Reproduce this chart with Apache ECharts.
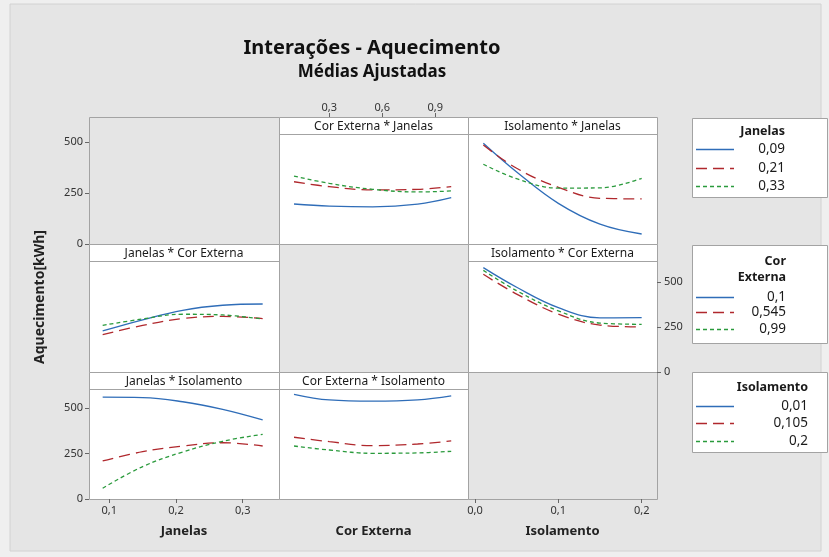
<!DOCTYPE html>
<html>
<head>
<meta charset="utf-8">
<script src="https://cdn.jsdelivr.net/npm/echarts@6/dist/echarts.min.js"></script>
<style>
  html, body { margin: 0; padding: 0; background: #efefef; }
  #chart { width: 829px; height: 557px; }
</style>
</head>
<body>
<div id="chart"></div>
<script>
// ---- Factor levels (legend labels) ----
const janelasLevels = ['0,09', '0,21', '0,33'];
const corLevels = ['0,1', '0,545', '0,99'];
const isoLevels = ['0,01', '0,105', '0,2'];

// ---- Axis ticks ----
const yTicks = [0, 250, 500];
const janelasTicks = [0.1, 0.2, 0.3];
const corTicks = [0.3, 0.6, 0.9];
const isoTicks = [0.0, 0.1, 0.2];

// ---- Fitted means, sampled along each factor ----
const corX = [0.1, 0.3, 0.545, 0.8, 0.99];
const isoX = [0.01, 0.05, 0.1, 0.15, 0.2];
const janX = [0.09, 0.15, 0.21, 0.27, 0.33];

// Cor Externa * Janelas (lines = Janelas)
const corJan_09 = [196, 186, 182, 195, 227];
const corJan_21 = [305, 281, 265, 268, 281];
const corJan_33 = [333, 297, 268, 255, 260];

// Isolamento * Janelas (lines = Janelas)
const isoJan_09 = [494, 353, 199, 97, 49];
const isoJan_21 = [485, 371, 278, 224, 221];
const isoJan_33 = [391, 320, 274, 275, 322];

// Janelas * Cor Externa (lines = Cor Externa)
const janCor_01 = [228, 290, 343, 371, 378];
const janCor_545 = [208, 259, 297, 309, 297];
const janCor_99 = [259, 295, 321, 317, 294];

// Isolamento * Cor Externa (lines = Cor Externa)
const isoCor_01 = [580, 471, 358, 301, 302];
const isoCor_545 = [543, 433, 322, 261, 250];
const isoCor_99 = [565, 452, 340, 272, 265];

// Janelas * Isolamento (lines = Isolamento)
const janIso_01 = [559, 557, 534, 492, 434];
const janIso_105 = [209, 260, 291, 309, 291];
const janIso_2 = [59, 178, 258, 317, 355];

// Cor Externa * Isolamento (lines = Isolamento)
const corIso_01 = [575, 544, 537, 544, 566];
const corIso_105 = [339, 315, 293, 302, 319];
const corIso_2 = [291, 269, 251, 253, 262];

// ---- Layout ----
const colX = [89, 279, 468, 657];
const rowY = [117, 244, 372, 499];
const STRIP = 17;
const rowMax = [539, 617, 604];        // y extent of each row's plotting area
const xRange = {
  jan: [0.0695, 0.3545],
  cor: [0.015, 1.085],
  iso: [-0.0084, 0.2184]
};

const BLUE = '#2f6db8', RED = '#b0282d', GREEN = '#2a9a3c';
const styles = [
  { color: BLUE, type: 'solid' },
  { color: RED, type: [11, 6] },
  { color: GREEN, type: [4, 3] }
];
const FONT = 'Noto Sans';
const comma = v => (Math.round(v * 10) / 10).toFixed(1).replace('.', ',');

// panels: [row, col, title, xKey, xs, [series...], legendLabels]
const panels = [
  [0, 0, null, 'jan'],
  [0, 1, 'Cor Externa * Janelas', 'cor', corX, [corJan_09, corJan_21, corJan_33], janelasLevels],
  [0, 2, 'Isolamento * Janelas', 'iso', isoX, [isoJan_09, isoJan_21, isoJan_33], janelasLevels],
  [1, 0, 'Janelas * Cor Externa', 'jan', janX, [janCor_01, janCor_545, janCor_99], corLevels],
  [1, 1, null, 'cor'],
  [1, 2, 'Isolamento * Cor Externa', 'iso', isoX, [isoCor_01, isoCor_545, isoCor_99], corLevels],
  [2, 0, 'Janelas * Isolamento', 'jan', janX, [janIso_01, janIso_105, janIso_2], isoLevels],
  [2, 1, 'Cor Externa * Isolamento', 'cor', corX, [corIso_01, corIso_105, corIso_2], isoLevels],
  [2, 2, null, 'iso']
];

const grids = [], xAxes = [], yAxes = [], series = [], graphics = [];

// outer frame
graphics.push({
  type: 'rect', shape: { x: 10, y: 4, width: 811, height: 547 },
  style: { fill: '#e5e5e5', stroke: '#d2d2d2', lineWidth: 1 }, z: -10
});

const tickLabelStyle = { color: '#333', fontSize: 11, fontFamily: FONT };
const tickStyle = { show: true, length: 4, lineStyle: { color: '#666' } };
const nameStyle = { color: '#222', fontSize: 13, fontWeight: 'bold', fontFamily: FONT };
const hiddenAxis = { splitLine: { show: false }, axisLine: { show: false }, axisTick: { show: false }, axisLabel: { show: false } };

panels.forEach((p, i) => {
  const [r, c, title, xKey, xs, lines, labels] = p;
  const left = colX[c], top = rowY[r];
  const w = colX[c + 1] - left, h = rowY[r + 1] - top;
  grids.push({ left: left, top: top + STRIP, width: w, height: h - STRIP, containLabel: false });

  // panel box
  graphics.push({
    type: 'rect', shape: { x: left + 0.5, y: top + 0.5, width: w, height: h },
    style: { fill: title ? '#ffffff' : '#e5e5e5', stroke: '#a3a3a3', lineWidth: 1 }, z: 0
  });
  if (title) {
    graphics.push({
      type: 'line', shape: { x1: left, y1: top + STRIP + 0.5, x2: left + w, y2: top + STRIP + 0.5 },
      style: { stroke: '#a3a3a3', lineWidth: 1 }, z: 1
    });
    graphics.push({
      type: 'text', x: left + w / 2, y: top + STRIP / 2 + 1, z: 1,
      style: { text: title, fill: '#1a1a1a', font: '12px "' + FONT + '"', textAlign: 'center', textVerticalAlign: 'middle' }
    });
  }

  // x axis
  const xa = Object.assign({ gridIndex: i, type: 'value', min: xRange[xKey][0], max: xRange[xKey][1] }, hiddenAxis);
  if (r === 2) {
    const ticks = c === 0 ? janelasTicks : (c === 2 ? isoTicks : null);
    Object.assign(xa, { position: 'bottom', name: ['Janelas', 'Cor Externa', 'Isolamento'][c],
      nameLocation: 'middle', nameGap: 26, nameTextStyle: nameStyle });
    if (ticks) {
      xa.axisTick = Object.assign({ customValues: ticks }, tickStyle);
      xa.axisLabel = Object.assign({ show: true, customValues: ticks, formatter: comma, margin: 6 }, tickLabelStyle);
    }
  }
  xAxes.push(xa);

  // y axis
  const ya = Object.assign({ gridIndex: i, type: 'value', min: 0, max: rowMax[r] }, hiddenAxis);
  if (c === 0 && r !== 1) {
    Object.assign(ya, { position: 'left',
      axisTick: Object.assign({ customValues: yTicks }, tickStyle),
      axisLabel: Object.assign({ show: true, customValues: yTicks, margin: 6 }, tickLabelStyle) });
  }
  yAxes.push(ya);

  if (lines) {
    lines.forEach((vals, k) => {
      series.push({
        type: 'line', name: labels[k], xAxisIndex: i, yAxisIndex: i, smooth: 0.4,
        showSymbol: false, silent: true, z: 3,
        lineStyle: { color: styles[k].color, type: styles[k].type, width: 1.3 },
        data: xs.map((x, j) => [x, vals[j]])
      });
    });
  }
});

// Cor Externa scale along the top edge of the first row
grids.push({ left: colX[1], top: rowY[0] - 10, width: colX[2] - colX[1], height: 10 });
xAxes.push(Object.assign({}, hiddenAxis, { gridIndex: 9, type: 'value', position: 'bottom',
  min: xRange.cor[0], max: xRange.cor[1],
  axisTick: Object.assign({ customValues: corTicks, inside: true }, tickStyle),
  axisLabel: Object.assign({ show: true, customValues: corTicks, formatter: comma, inside: true, margin: 4 }, tickLabelStyle) }));
yAxes.push(Object.assign({ gridIndex: 9, type: 'value', min: 0, max: 1 }, hiddenAxis));

// Response scale along the right edge of the second row
grids.push({ left: colX[3], top: rowY[1] + STRIP, width: 10, height: rowY[2] - rowY[1] - STRIP });
xAxes.push(Object.assign({ gridIndex: 10, type: 'value', min: 0, max: 1 }, hiddenAxis));
yAxes.push(Object.assign({}, hiddenAxis, { gridIndex: 10, type: 'value', position: 'left', min: 0, max: rowMax[1],
  axisTick: Object.assign({ customValues: yTicks, inside: true }, tickStyle),
  axisLabel: Object.assign({ show: true, customValues: yTicks, inside: true, margin: 7 }, tickLabelStyle) }));

// y axis title
graphics.push({
  type: 'text', x: 40, y: 297, rotation: Math.PI / 2, z: 2,
  style: { text: 'Aquecimento[kWh]', fill: '#222', font: 'bold 14px "' + FONT + '"', textAlign: 'center', textVerticalAlign: 'middle' }
});

// legends
const legendBoxes = [
  { title: ['Janelas'], labels: janelasLevels, box: [692, 118, 135, 79], titleY: [131], rowYs: [149, 168, 186], right: 785 },
  { title: ['Cor', 'Externa'], labels: corLevels, box: [692, 245, 135, 98], titleY: [261, 277], rowYs: [297, 312, 329], right: 786 },
  { title: ['Isolamento'], labels: isoLevels, box: [692, 372, 135, 80], titleY: [387], rowYs: [406, 423, 441], right: 808 }
];
legendBoxes.forEach(lg => {
  const [bx, by, bw, bh] = lg.box;
  graphics.push({ type: 'rect', shape: { x: bx + 0.5, y: by + 0.5, width: bw, height: bh },
    style: { fill: '#ffffff', stroke: '#a3a3a3', lineWidth: 1 }, z: 0 });
  lg.title.forEach((t, k) => graphics.push({
    type: 'text', x: lg.right, y: lg.titleY[k], z: 1,
    style: { text: t, fill: '#1a1a1a', font: 'bold 12.5px "' + FONT + '"', textAlign: 'right', textVerticalAlign: 'middle' }
  }));
  lg.labels.forEach((t, k) => {
    graphics.push({ type: 'line', z: 1,
      shape: { x1: 696, y1: lg.rowYs[k] + 0.5, x2: 734, y2: lg.rowYs[k] + 0.5 },
      style: { stroke: styles[k].color, lineWidth: 1.3, lineDash: styles[k].type === 'solid' ? null : styles[k].type } });
    graphics.push({ type: 'text', x: lg.right, y: lg.rowYs[k], z: 1,
      style: { text: t, fill: '#1a1a1a', font: '13.5px "' + FONT + '"', textAlign: 'right', textVerticalAlign: 'middle' } });
  });
});

const chart = echarts.init(document.getElementById('chart'), null, { renderer: 'canvas' });
chart.setOption({
  backgroundColor: '#efefef',
  animation: false,
  title: {
    text: 'Interações - Aquecimento', subtext: 'Médias Ajustadas',
    left: 367, top: 31, textAlign: 'center', itemGap: 2,
    textStyle: { color: '#111', fontSize: 20, fontWeight: 'bold', fontFamily: FONT, lineHeight: 24 },
    subtextStyle: { color: '#111', fontSize: 17, fontWeight: 'bold', fontFamily: FONT, lineHeight: 20 }
  },
  grid: grids,
  xAxis: xAxes,
  yAxis: yAxes,
  series: series,
  graphic: { elements: graphics }
});
</script>
</body>
</html>
